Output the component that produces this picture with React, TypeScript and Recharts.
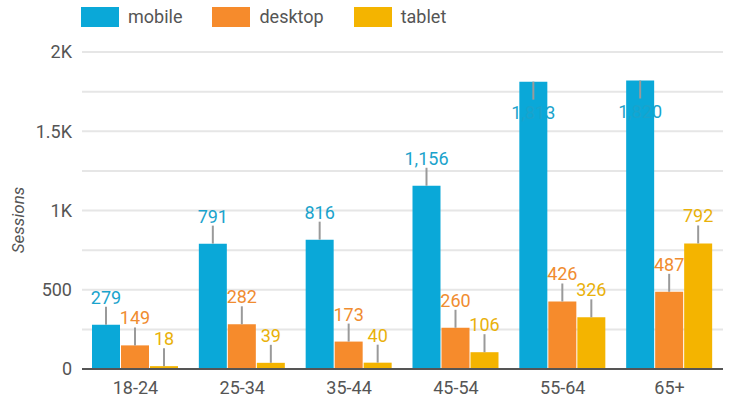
import React from 'react';
import { BarChart, Bar, XAxis, YAxis, CartesianGrid, LabelList } from 'recharts';

const AGE_GROUPS = ['18-24', '25-34', '35-44', '45-54', '55-64', '65+'];
const MOBILE = [279, 791, 816, 1156, 1813, 1820];
const DESKTOP = [149, 282, 173, 260, 426, 487];
const TABLET = [18, 39, 40, 106, 326, 792];
const Y_TICKS = [0, 250, 500, 750, 1000, 1250, 1500, 1750, 2000];

const SERIES = [
  { key: 'mobile', color: '#0aa8d8', text: '#1aa3cc' },
  { key: 'desktop', color: '#f68b2c', text: '#f08c30' },
  { key: 'tablet', color: '#f4b400', text: '#e9b10a' },
];

const data = AGE_GROUPS.map((age, i) => ({
  age,
  mobile: MOBILE[i],
  desktop: DESKTOP[i],
  tablet: TABLET[i],
}));

const FONT = 'Roboto, sans-serif';
const PLOT_TOP = 52;

const fmtTick = (v: number) => {
  if (v % 500 !== 0) return '';
  if (v >= 1000) return `${v / 1000}K`;
  return String(v);
};

function makeLabel(textColor: string) {
  return (props: any) => {
    const { x, y, width, value } = props;
    const cx = x + width / 2;
    const flip = y - 42 < PLOT_TOP - 10;
    const lineEnd = flip ? y + 18 : y - 18;
    const baseline = flip ? y + 37 : y - 21;
    return (
      <g>
        <line x1={cx} x2={cx} y1={y} y2={lineEnd} stroke="#9a9a9a" strokeWidth={2} />
        <text x={cx} y={baseline} textAnchor="middle" fill={textColor} fontSize={18} fontFamily={FONT}>
          {Number(value).toLocaleString('en-US')}
        </text>
      </g>
    );
  };
}

function LegendBox() {
  return (
    <div
      style={{
        position: 'absolute',
        top: 7,
        left: 81,
        display: 'flex',
        alignItems: 'center',
        fontFamily: FONT,
        fontSize: 18,
        color: '#555',
        lineHeight: '20px',
      }}
    >
      {SERIES.map((s) => (
        <div key={s.key} style={{ display: 'flex', alignItems: 'center', marginRight: 30 }}>
          <div style={{ width: 38, height: 20, background: s.color, marginRight: 9 }} />
          <span>{s.key}</span>
        </div>
      ))}
    </div>
  );
}

export default function App() {
  return (
    <div style={{ position: 'absolute', left: 0, top: 0, width: 730, height: 403, background: '#fff' }}>
      <BarChart
        width={730}
        height={403}
        data={data}
        margin={{ top: PLOT_TOP, right: 7, bottom: 4, left: 0 }}
        barCategoryGap={10}
        barGap={1}
      >
        <CartesianGrid vertical={false} stroke="#e6e6e6" strokeWidth={2} />
        <XAxis
          dataKey="age"
          height={30}
          axisLine={{ stroke: '#555', strokeWidth: 2 }}
          tickLine={false}
          tick={{ fill: '#555', fontSize: 18, fontFamily: FONT, dy: 4 }}
        />
        <YAxis
          width={82}
          domain={[0, 2000]}
          ticks={Y_TICKS}
          tickFormatter={fmtTick}
          axisLine={false}
          tickLine={false}
          tick={{ fill: '#555', fontSize: 18, fontFamily: FONT, dx: -2 }}
          label={() => (
            <text
              x={24}
              y={220}
              transform="rotate(-90 24 220)"
              textAnchor="middle"
              fill="#555"
              fontSize={17}
              fontStyle="italic"
              fontFamily={FONT}
            >
              Sessions
            </text>
          )}
        />
        {SERIES.map((s) => (
          <Bar key={s.key} dataKey={s.key} fill={s.color} isAnimationActive={false}>
            <LabelList dataKey={s.key} content={makeLabel(s.text)} />
          </Bar>
        ))}
      </BarChart>
      <LegendBox />
    </div>
  );
}
